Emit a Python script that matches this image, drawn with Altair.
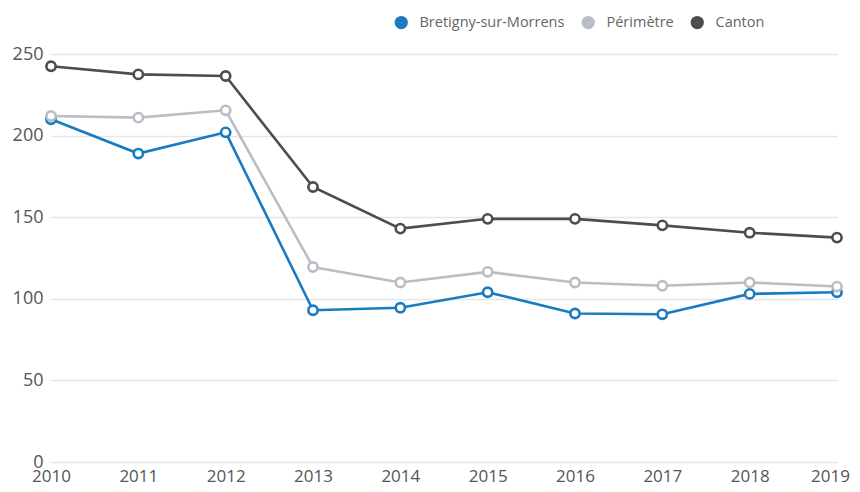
import altair as alt
import pandas as pd

years = [2010, 2011, 2012, 2013, 2014, 2015, 2016, 2017, 2018, 2019]
bretigny = [210, 189, 202, 93, 94.5, 104, 91, 90.5, 103, 104]
perimetre = [212, 211, 215.5, 119.5, 110, 116.5, 110, 108, 110, 107.5]
canton = [242.5, 237.5, 236.5, 168.5, 143, 149, 149, 145, 140.5, 137.5]

series_names = ["Bretigny-sur-Morrens", "Périmètre", "Canton"]
series_colors = ["#1a7bc0", "#b9bec4", "#4d4d4d"]

rows = []
for k, (name, vals) in enumerate(zip(series_names, [bretigny, perimetre, canton])):
    for y, v in zip(years, vals):
        rows.append({"year": y, "value": v, "serie": name, "order": k})
df = pd.DataFrame(rows)

font = "Open Sans"

x = alt.X("year:Q", scale=alt.Scale(domain=[2010, 2019], nice=False, zero=False),
          axis=alt.Axis(values=years, format="d", title=None, grid=False, domain=False,
                        ticks=False, labelFontSize=17, labelColor="#555555", labelFont=font,
                        labelPadding=6, labelFlush=False, labelOverlap=False,
                        labelOffset={"expr": "datum.value == 2019 ? -7 : 0"}))
y = alt.Y("value:Q", scale=alt.Scale(domain=[0, 250], nice=False),
          axis=alt.Axis(values=[0, 50, 100, 150, 200, 250], title=None, domain=False, ticks=False,
                        gridColor="#e6e6e6", gridWidth=1.5, labelFontSize=18, labelColor="#555555",
                        labelFont=font, labelPadding=8, labelBaseline="middle"))
color = alt.Color("serie:N", scale=alt.Scale(domain=series_names, range=series_colors),
                  legend=alt.Legend(title=None, orient="none", direction="horizontal",
                                    legendX=343, legendY=-39, symbolType="circle",
                                    symbolSize=40, symbolStrokeWidth=7,
                                    labelFontSize=14.5, labelFont=font, labelColor="#666666",
                                    labelOffset=11, columnPadding=6, padding=0))

base = alt.Chart(df)
lines = base.mark_line(strokeWidth=2.6).encode(x=x, y=y, color=color, detail="serie:N",
                                                order=alt.Order("year:Q"))
points = base.mark_point(shape="circle", filled=True, fill="white", size=85, strokeWidth=2.6, opacity=1).encode(
    x=x, y=y, stroke=alt.Stroke("serie:N", scale=alt.Scale(domain=series_names, range=series_colors), legend=None),
    order=alt.Order("order:Q"))

chart = alt.layer(lines, points).properties(
    width=786, height=408,
    autosize=alt.AutoSizeParams(type="none"),
    padding={"left": 43, "top": 46, "right": 15, "bottom": 22},
    background="white",
).configure_view(stroke=None)

chart.save("out.html", embed_options={"renderer": "svg", "actions": False})
